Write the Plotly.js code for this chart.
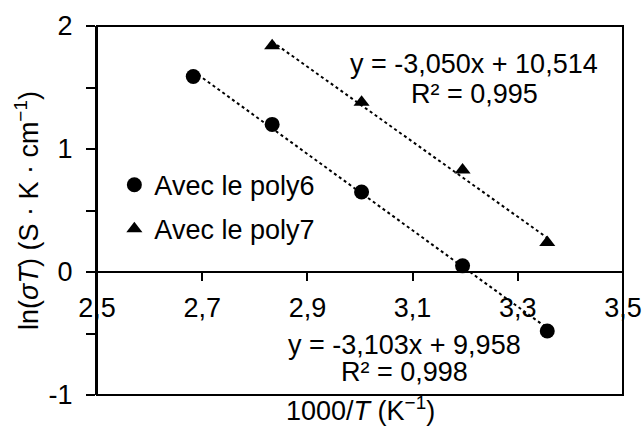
<!DOCTYPE html>
<html>
<head>
<meta charset="utf-8">
<script src="https://cdn.plot.ly/plotly-3.0.1.min.js"></script>
<style>html,body{margin:0;padding:0;background:#fff;}#chart{width:644px;height:427px;}</style>
</head>
<body>
<div id="chart"></div>
<script>
// Data
const invT = [2.683, 2.833, 3.003, 3.195, 3.356];          // 1000/T (K^-1)
const poly6 = [1.59, 1.20, 0.65, 0.05, -0.48];               // ln(sigma T), poly6
const poly7X = [2.833, 3.003, 3.195, 3.356];
const poly7 = [1.84, 1.38, 0.83, 0.24];                      // ln(sigma T), poly7
// Trendline endpoints (read from picture / equations shown)
const trend6X = [2.683, 3.356];
const trend6Y = [1.633, -0.456];
const trend7X = [2.833, 3.356];
const trend7Y = [1.873, 0.278];
const xTickVals = [2.5, 2.7, 2.9, 3.1, 3.3, 3.5];
const yTickVals = [-1, 0, 1, 2];
const yTickText = ["-1", "0", "1", "2"];
const eq7 = ["y = -3,050x + 10,514", "R² = 0,995"];
const eq6 = ["y = -3,103x + 9,958", "R² = 0,998"];
const legendNames = ["Avec le poly6", "Avec le poly7"];

const FONT = "Liberation Sans, Arial, sans-serif";
const FS = 27;

const traces = [
  {x: trend6X, y: trend6Y, mode: "lines", line: {color: "#000", width: 2, dash: "dot"}, showlegend: false, hoverinfo: "skip"},
  {x: trend7X, y: trend7Y, mode: "lines", line: {color: "#000", width: 2, dash: "dot"}, showlegend: false, hoverinfo: "skip"},
  {x: invT, y: poly6, mode: "markers", name: legendNames[0], legendgroup: "a",
   marker: {symbol: "circle", size: 15, color: "#000"}},
  {x: poly7X, y: poly7, mode: "markers", name: legendNames[1], legendgroup: "b",
   marker: {symbol: "triangle-up", size: 14, color: "#000"}}
];

function ann(x, y, text) {
  return {xref: "x", yref: "y", x: x, y: y, text: text, showarrow: false,
          font: {family: FONT, size: FS, color: "#000"}, xanchor: "center", yanchor: "middle"};
}

const layout = {
  width: 644, height: 427,
  margin: {l: 97, r: 21, t: 26, b: 32},
  paper_bgcolor: "#fff", plot_bgcolor: "#fff",
  font: {family: FONT, size: FS, color: "#000"},
  separators: ",.",
  showlegend: true,
  legend: {x: 0.033, y: 0.635, xanchor: "left", yanchor: "top", bgcolor: "rgba(0,0,0,0)",
           font: {family: FONT, size: FS, color: "#000"}, traceorder: "grouped", tracegroupgap: 6, itemwidth: 30},
  xaxis: {
    range: [2.5, 3.5], tickvals: xTickVals, tickformat: ".1f",
    anchor: "free", position: 1/3,
    showline: true, linecolor: "#000", linewidth: 2,
    ticks: "outside", ticklen: 8, tickwidth: 2, tickcolor: "#000", ticklabelstandoff: 4,
    showgrid: false, zeroline: false,
    tickfont: {family: FONT, size: FS, color: "#000"}
  },
  yaxis: {
    range: [-1, 2], tickvals: yTickVals, ticktext: yTickText,
    showline: true, linecolor: "#000", linewidth: 2,
    ticks: "outside", ticklen: 9, tickwidth: 2, tickcolor: "#000", ticklabelstandoff: 8,
    minor: {dtick: 0.5, tick0: 0, ticks: "outside", ticklen: 9, tickwidth: 2, tickcolor: "#000", showgrid: false},
    showgrid: false, zeroline: false,
    tickfont: {family: FONT, size: FS, color: "#000"},
    title: {text: "ln(<i>σT</i>) (S · K · cm<sup>−1</sup>)", font: {family: FONT, size: FS, color: "#000"}, standoff: 2}
  },
  shapes: [
    {type: "rect", xref: "paper", yref: "paper", x0: 0, x1: 1, y0: 0, y1: 1, line: {color: "#000", width: 2}, layer: "above"}
  ],
  annotations: [
    ann(3.217, 1.69, eq7[0]),
    ann(3.217, 1.447, eq7[1]),
    ann(3.084, -0.593, eq6[0]),
    ann(3.084, -0.813, eq6[1]),
    {xref: "paper", yref: "paper", x: 0.5, y: 0, yshift: -14, text: "1000/<i>T</i> (K<sup>−1</sup>)", showarrow: false,
     font: {family: FONT, size: FS, color: "#000"}, xanchor: "center", yanchor: "middle"}
  ]
};

Plotly.newPlot("chart", traces, layout, {displayModeBar: false, staticPlot: true});
</script>
</body>
</html>
